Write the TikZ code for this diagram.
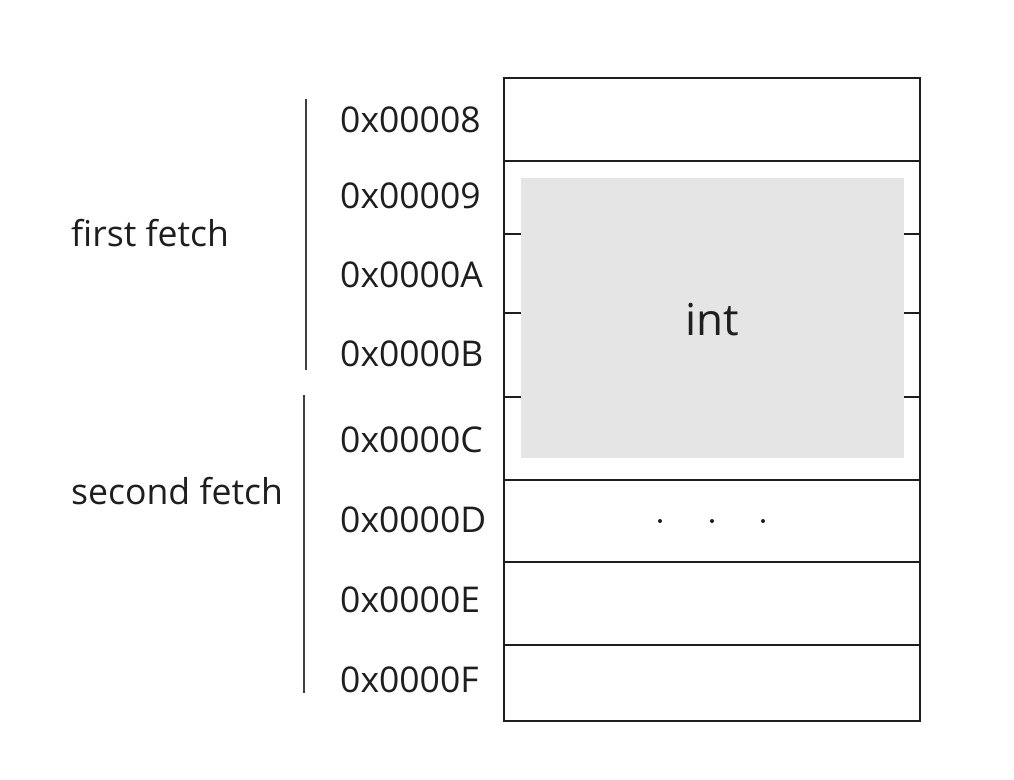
\documentclass[tikz,border=0pt]{standalone}
\usepackage{fontspec}
\setmainfont{Open Sans}
\definecolor{ink}{HTML}{1E1E1E}
\definecolor{cellgrey}{HTML}{E5E5E5}
\begin{document}
\begin{tikzpicture}[x=1pt,y=-1pt,
  addr/.style={anchor=west,inner sep=0pt,text=ink,font=\fontsize{35.5}{40}\selectfont},
  grp/.style={anchor=west,inner sep=0pt,text=ink,font=\fontsize{35.6}{40}\selectfont},
  cellline/.style={draw=ink,line width=2.2pt},
  brace/.style={draw=ink!85,line width=2.2pt}]
\useasboundingbox (0,0) rectangle (1014,779);
% memory cells
\draw[cellline] (504,78) rectangle (920,721);
\foreach \yy in {161,234,313,397,480,562,645}
  \draw[cellline] (504,\yy) -- (920,\yy);
% int block
\node[fill=cellgrey,minimum width=383pt,minimum height=280pt,inner sep=0pt,anchor=north west] (intbox) at (521,178) {};
\node[inner sep=0pt,text=ink,font=\fontsize{44}{50}\selectfont] (intlbl) at (712,320) {int};
% ellipsis dots
\node[circle,fill=ink,inner sep=0pt,minimum size=4pt] (d1) at (660,521) {};
\node[circle,fill=ink,inner sep=0pt,minimum size=4pt] (d2) at (712,521) {};
\node[circle,fill=ink,inner sep=0pt,minimum size=4pt] (d3) at (763,521) {};
% addresses
\node[addr] (a8) at (340,120) {0x00008};
\node[addr] (a9) at (340,196) {0x00009};
\node[addr] (aA) at (340,275) {0x0000A};
\node[addr] (aB) at (340,354) {0x0000B};
\node[addr] (aC) at (340,440) {0x0000C};
\node[addr] (aD) at (340,520) {0x0000D};
\node[addr] (aE) at (340,600) {0x0000E};
\node[addr] (aF) at (340,680) {0x0000F};
% fetch brackets
\coordinate (f1t) at (306,99);
\coordinate (f1b) at (306,370);
\coordinate (f2t) at (304,395);
\coordinate (f2b) at (304,693);
\draw[brace] (f1t) -- (f1b);
\draw[brace] (f2t) -- (f2b);
\node[grp] (ff) at (71,233) {first fetch};
\node[grp] (sf) at (71,491) {second fetch};
\end{tikzpicture}
\end{document}
